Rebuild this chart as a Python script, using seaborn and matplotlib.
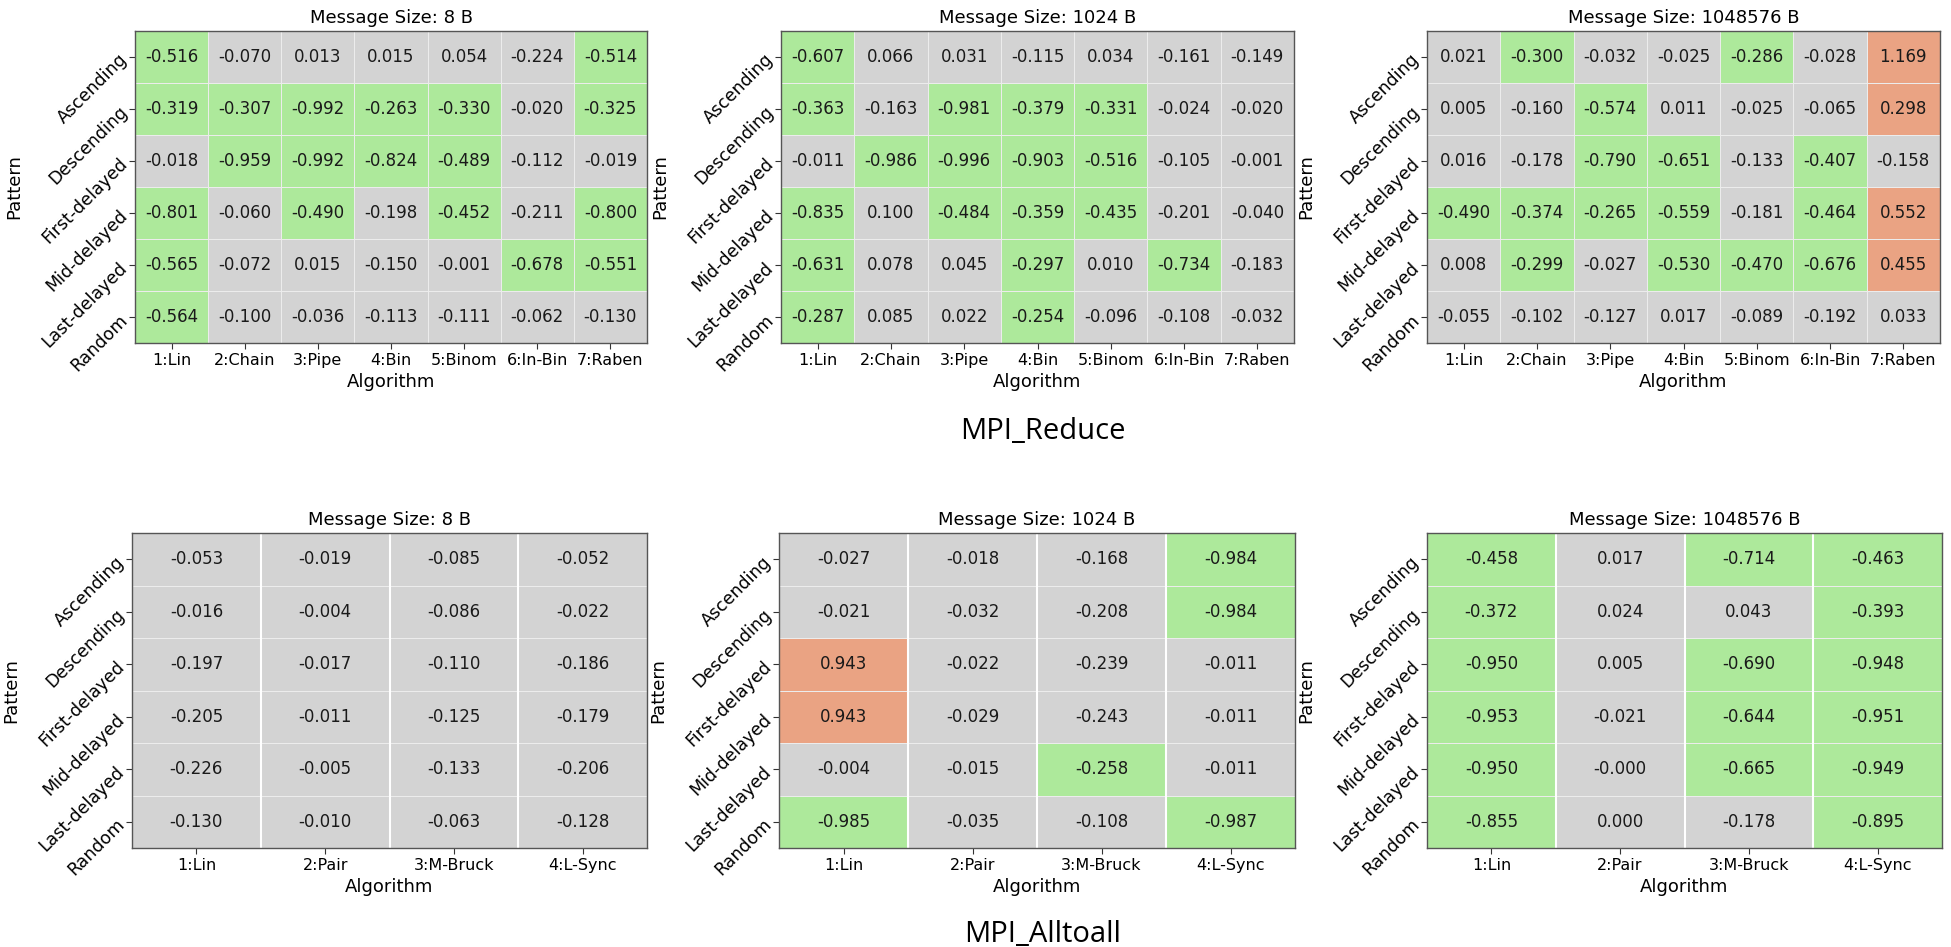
import numpy as np
import pandas as pd
import matplotlib
matplotlib.use("Agg")
import matplotlib.pyplot as plt
import seaborn as sns
from matplotlib.colors import ListedColormap, BoundaryNorm

patterns = ["Ascending", "Descending", "First-delayed", "Mid-delayed", "Last-delayed", "Random"]
reduce_algos = ["1:Lin", "2:Chain", "3:Pipe", "4:Bin", "5:Binom", "6:In-Bin", "7:Raben"]
alltoall_algos = ["1:Lin", "2:Pair", "3:M-Bruck", "4:L-Sync"]
sizes = [8, 1024, 1048576]

reduce_8 = [
    [-0.516, -0.070, 0.013, 0.015, 0.054, -0.224, -0.514],
    [-0.319, -0.307, -0.992, -0.263, -0.330, -0.020, -0.325],
    [-0.018, -0.959, -0.992, -0.824, -0.489, -0.112, -0.019],
    [-0.801, -0.060, -0.490, -0.198, -0.452, -0.211, -0.800],
    [-0.565, -0.072, 0.015, -0.150, -0.001, -0.678, -0.551],
    [-0.564, -0.100, -0.036, -0.113, -0.111, -0.062, -0.130],
]
reduce_1024 = [
    [-0.607, 0.066, 0.031, -0.115, 0.034, -0.161, -0.149],
    [-0.363, -0.163, -0.981, -0.379, -0.331, -0.024, -0.020],
    [-0.011, -0.986, -0.996, -0.903, -0.516, -0.105, -0.001],
    [-0.835, 0.100, -0.484, -0.359, -0.435, -0.201, -0.040],
    [-0.631, 0.078, 0.045, -0.297, 0.010, -0.734, -0.183],
    [-0.287, 0.085, 0.022, -0.254, -0.096, -0.108, -0.032],
]
reduce_1m = [
    [0.021, -0.300, -0.032, -0.025, -0.286, -0.028, 1.169],
    [0.005, -0.160, -0.574, 0.011, -0.025, -0.065, 0.298],
    [0.016, -0.178, -0.790, -0.651, -0.133, -0.407, -0.158],
    [-0.490, -0.374, -0.265, -0.559, -0.181, -0.464, 0.552],
    [0.008, -0.299, -0.027, -0.530, -0.470, -0.676, 0.455],
    [-0.055, -0.102, -0.127, 0.017, -0.089, -0.192, 0.033],
]
alltoall_8 = [
    [-0.053, -0.019, -0.085, -0.052],
    [-0.016, -0.004, -0.086, -0.022],
    [-0.197, -0.017, -0.110, -0.186],
    [-0.205, -0.011, -0.125, -0.179],
    [-0.226, -0.005, -0.133, -0.206],
    [-0.130, -0.010, -0.063, -0.128],
]
alltoall_1024 = [
    [-0.027, -0.018, -0.168, -0.984],
    [-0.021, -0.032, -0.208, -0.984],
    [0.943, -0.022, -0.239, -0.011],
    [0.943, -0.029, -0.243, -0.011],
    [-0.004, -0.015, -0.258, -0.011],
    [-0.985, -0.035, -0.108, -0.987],
]
alltoall_1m = [
    [-0.458, 0.017, -0.714, -0.463],
    [-0.372, 0.024, 0.043, -0.393],
    [-0.950, 0.005, -0.690, -0.948],
    [-0.953, -0.021, -0.644, -0.951],
    [-0.950, -0.0, -0.665, -0.949],
    [-0.855, 0.000, -0.178, -0.895],
]

# improvement (< -0.25), neutral, regression (> 0.25)
cmap = ListedColormap(["#ade99b", "#d3d3d3", "#eaa383"])
norm = BoundaryNorm([-10, -0.25, 0.25, 10], cmap.N)

W, H = 1951, 947
fig = plt.figure(figsize=(W / 100, H / 100), dpi=100)

# axes boxes in pixels: left, top, right, bottom
top_boxes = [(135, 31, 647, 343), (781, 31, 1294, 343), (1427, 31, 1940, 343)]
bot_boxes = [(132, 533, 647, 848), (779, 533, 1295, 848), (1427, 533, 1942, 848)]


def add_heat(box, values, algos, size, col_sep):
    l, t, r, b = box
    ax = fig.add_axes([l / W, 1 - b / H, (r - l) / W, (b - t) / H])
    df = pd.DataFrame(values, index=patterns, columns=algos)
    sns.heatmap(df, ax=ax, cmap=cmap, norm=norm, cbar=False, annot=True, fmt=".3f",
                linewidths=0.5, linecolor="#ececec",
                annot_kws={"fontsize": 12, "color": "#1a1a1a"})
    if col_sep:
        ax.vlines(np.arange(1, df.shape[1]), 0, df.shape[0], colors="white", linewidth=1.5)
    for s in ax.spines.values():
        s.set_visible(True)
        s.set_color("#555555")
        s.set_linewidth(1.0)
    ax.set_title(f"Message Size: {size} B", fontsize=13)
    ax.set_xlabel("Algorithm", fontsize=13, labelpad=3)
    ax.set_ylabel("Pattern", fontsize=13)
    ax.yaxis.set_label_coords(-112 / (r - l), 0.5)
    ax.set_xticklabels(algos, rotation=0, fontsize=11.5)
    ax.set_yticklabels(patterns, rotation=45, ha="right", va="center",
                       rotation_mode="anchor", fontsize=12.5)
    ax.tick_params(axis="both", length=4, color="#333333")
    return ax


for box, vals, size in zip(top_boxes, [reduce_8, reduce_1024, reduce_1m], sizes):
    add_heat(box, vals, reduce_algos, size, False)
for box, vals, size in zip(bot_boxes, [alltoall_8, alltoall_1024, alltoall_1m], sizes):
    add_heat(box, vals, alltoall_algos, size, True)

fig.text(1043 / W, 1 - 439 / H, "MPI_Reduce", fontsize=21, family="Open Sans",
         ha="center", va="baseline")
fig.text(1043 / W, 1 - 942 / H, "MPI_Alltoall", fontsize=21, family="Open Sans",
         ha="center", va="baseline")

fig.savefig("out.png", dpi=100)
